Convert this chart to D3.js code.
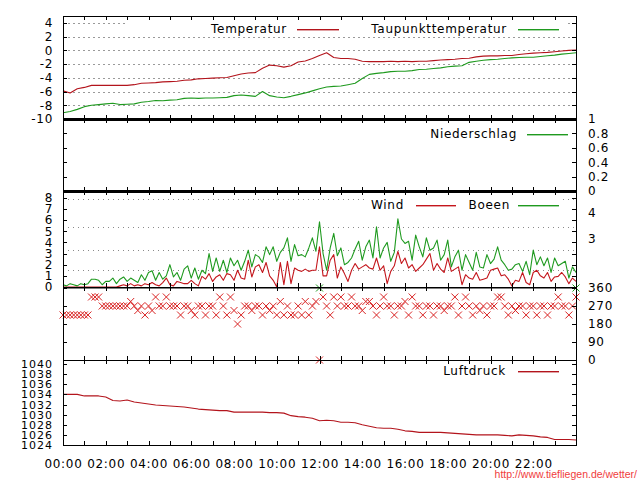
<!DOCTYPE html>
<html><head><meta charset="utf-8">
<script src="https://cdn.jsdelivr.net/npm/d3@7"></script>
<style>
body{margin:0;background:#fff}
svg{display:block}
text{font-family:"DejaVu Sans",sans-serif;font-size:12px;letter-spacing:0.7px;fill:#000}
</style>
</head><body>
<svg id="c" width="640" height="480"></svg>
<script>
// ---------- data ----------
const hourTicks = [0,1,2,3,4,5,6,7,8,9,10,11,12,13,14,15,16,17,18,19,20,21,22,23,24];
const timeLabels = ["00:00","02:00","04:00","06:00","08:00","10:00","12:00","14:00","16:00","18:00","20:00","22:00"];
const timeLabelHours = [0,2,4,6,8,10,12,14,16,18,20,22];

// 20-minute samples (73 values, 00:00 .. 24:00)
const temperature = [
-5.9,-6.2,-5.6,-5.4,-5.1,-5.1,-5.1,-5.1,-5.1,-5.1,
-5.0,-4.8,-4.75,-4.7,-4.6,-4.55,-4.5,-4.35,-4.3,-4.15,
-4.1,-4.05,-4.0,-3.95,-3.7,-3.45,-3.3,-3.25,-2.6,-2.15,
-2.25,-2.45,-2.25,-1.7,-1.55,-1.2,-0.75,-0.35,-1.05,-1.2,
-1.2,-1.3,-1.6,-1.65,-1.65,-1.65,-1.6,-1.65,-1.6,-1.65,
-1.6,-1.6,-1.5,-1.4,-1.35,-1.3,-1.2,-1.15,-0.95,-0.85,
-0.8,-0.8,-0.75,-0.75,-0.6,-0.5,-0.4,-0.35,-0.3,-0.2,
-0.1,0.0,0.05];
const dewPoint = [
-9.1,-8.9,-8.6,-8.2,-8.0,-7.9,-7.8,-7.7,-7.9,-7.85,
-7.8,-7.55,-7.45,-7.3,-7.35,-7.25,-7.2,-7.0,-6.95,-7.0,
-6.95,-6.95,-6.9,-6.85,-6.6,-6.5,-6.6,-6.7,-6.0,-6.6,
-6.8,-6.9,-6.7,-6.45,-6.2,-5.9,-5.6,-5.35,-5.25,-5.2,
-5.0,-4.8,-4.1,-3.5,-3.35,-3.25,-3.1,-3.05,-3.05,-2.95,
-2.8,-2.75,-2.65,-2.55,-2.4,-2.3,-2.25,-1.75,-1.6,-1.45,
-1.35,-1.3,-1.2,-1.1,-1.05,-1.0,-1.0,-0.9,-0.8,-0.7,
-0.55,-0.45,-0.35];
const pressure = [
1034.0,1034.0,1034.0,1033.7,1033.7,1033.7,1033.5,1032.8,1032.7,1032.9,
1032.5,1032.3,1032.1,1031.9,1031.8,1031.7,1031.6,1031.5,1031.3,1031.1,
1031.0,1030.9,1030.8,1030.8,1030.5,1030.5,1030.5,1030.5,1030.5,1030.4,
1030.4,1030.3,1029.8,1029.6,1029.5,1029.3,1028.8,1028.9,1028.8,1028.5,
1028.5,1028.4,1028.0,1027.7,1027.4,1027.3,1027.3,1027.1,1026.8,1026.7,
1026.5,1026.5,1026.5,1026.5,1026.4,1026.3,1026.2,1026.1,1026.0,1026.0,
1026.0,1026.0,1025.9,1025.8,1026.0,1025.9,1025.8,1025.6,1025.5,1025.1,
1025.1,1025.1,1025.0];

// 10-minute samples (145 values, 00:00 .. 24:00)
const wind = [
0,0,0,0,0,0,0,0,0,0,
0,0,0,0,0,0,0.1,0.2,0.1,0.3,
0.1,0.2,0.1,0.3,0.2,0.4,0.2,0.1,0.4,0.8,
0.2,0.1,0.5,0.4,0.3,0.3,0.6,0.3,0.1,0.95,
0.7,1.2,0.5,0.9,1.1,0.6,1.2,1.1,0.6,1.5,
0.8,0.7,2.4,0.9,1.8,2.0,1.3,2.2,1.0,0.6,
0.0,2.2,0.2,2.3,0.3,1.7,1.5,1.4,1.6,1.4,
1.5,1.5,3.6,1.0,1.0,2.4,2.9,0.8,1.8,1.2,
0.5,1.5,2.1,1.6,1.8,2.0,1.7,1.6,2.6,1.5,
1.9,0.3,1.4,1.9,3.2,2.1,2.6,1.7,2.0,1.4,
1.7,2.0,2.5,3.0,1.5,2.1,1.6,1.3,2.6,1.4,
1.6,1.8,0.2,1.1,0.8,0.7,1.3,0.6,0.7,0.8,
1.5,1.6,1.7,1.0,1.1,0.7,0.1,0.6,0.5,1.3,
0.4,0.2,1.3,1.5,1.0,0.8,1.3,0.5,0.9,0.95,
1.3,0.9,0.3,0.8,0.5];
const gusts = [
0.2,0.1,0.3,0.2,0.1,0.3,0.2,0.3,0.7,0.7,
0.6,0.2,0.5,0.5,0.8,0.3,0.7,0.9,0.5,0.8,
0.6,0.4,1.1,0.6,1.3,1.45,0.6,1.3,0.7,1.0,
2.0,0.9,1.3,0.6,1.6,1.9,0.8,1.7,0.7,1.5,
1.2,3.0,1.4,2.6,1.4,2.4,1.3,2.6,1.9,2.4,
1.5,2.3,3.3,1.8,2.9,2.7,2.2,3.6,2.9,3.6,
2.3,3.1,3.5,4.4,2.3,3.8,2.8,2.9,2.7,3.5,
4.4,3.2,5.85,3.0,1.5,3.5,4.8,2.8,3.5,2.0,
2.2,2.6,3.4,4.1,2.4,3.6,4.2,2.6,5.4,2.6,
3.5,4.0,2.3,3.1,6.1,4.3,3.9,4.1,2.4,4.65,
3.6,2.7,4.4,3.3,3.5,4.2,2.4,2.9,4.2,1.8,
2.7,3.3,1.5,2.9,2.2,1.5,3.1,1.8,1.7,2.9,
2.1,2.5,3.6,2.4,2.0,1.5,1.6,2.0,2.1,1.4,
2.3,1.1,3.3,2.0,2.7,1.9,2.6,1.3,2.6,1.9,
2.1,2.3,0.8,1.8,1.3];
const direction = [
225,225,225,225,225,225,225,225,315,315,
315,270,270,270,270,270,270,270,270,292.5,
270,247.5,270,225,270,247.5,315,270,270,315,
270,270,270,225,270,270,247.5,225,270,270,
225,270,270,225,315,270,225,315,247.5,180,
225,270,270,247.5,270,270,225,270,247.5,270,
225,292.5,225,270,225,225,270,225,292.5,225,
270,292.5,0,315,270,225,315,270,315,270,
270,315,270,270,247.5,292.5,292.5,270,225,270,
315,270,270,225,270,270,292.5,225,315,270,
270,225,270,270,225,270,270,247.5,270,270,
315,225,270,315,270,225,270,247.5,270,225,
270,270,315,315,270,225,270,247.5,270,270,
225,270,270,225,270,270,225,270,270,315,
270,270,225,270,315];
const gustDirHours = [12, 24];
const gustDirection = [360, 360];

// 3-hour samples
const precipitation = [0,0,0,0,0,0,0,0,0];

// axis ticks / labels
const tempTicks = [-10,-8,-6,-4,-2,0,2,4];
const tempGrid = [-8,-6,-4,-2,0,2,4];
const rainTicks = [0,0.2,0.4,0.6,0.8,1];
const rainLabels = ["0","0.2","0.4","0.6","0.8","1"];
const windTicks = [0,1,2,3,4,5,6,7,8];
const beaufortBounds = [1.5,3.3,5.4,7.9];
const beaufortMid = [4.35,6.65];
const beaufortLabels = ["3","4"];
const dirTicks = [0,90,180,270,360];
const pressTicks = [1024,1026,1028,1030,1032,1034,1036,1038,1040];

// ---------- drawing ----------
const RED = "#b3141c", WRED = "#c4161c", MRED = "#d92424", GREEN = "#1f9a1f";
const svg = d3.select("#c");
const X0 = 63, X1 = 576;
const x = d3.scaleLinear().domain([0,24]).range([X0,X1]);
const t20 = i => i/3, t10 = i => i/6, t3 = i => i*3;

const P = {
  temp:{top:16,bottom:119},
  rain:{top:119,bottom:191},
  wind:{top:191,bottom:287},
  dir:{top:287,bottom:360},
  press:{top:360,bottom:445}
};
const yT = d3.scaleLinear().domain([-10,5]).range([P.temp.bottom,P.temp.top]);
const yR = d3.scaleLinear().domain([0,1]).range([P.rain.bottom,P.rain.top]);
const yW = d3.scaleLinear().domain([0,8.6]).range([P.wind.bottom,P.wind.top]);
const yD = d3.scaleLinear().domain([0,360]).range([P.dir.bottom,P.dir.top+1]);
const yP = d3.scaleLinear().domain([1024,1040.8]).range([P.press.bottom,P.press.top]);

// grids
const gGrid = svg.append("g");
gGrid.selectAll(".tg").data(tempGrid).join("line")
  .attr("x1",X0).attr("x2",X1).attr("y1",d=>Math.round(yT(d))+0.5).attr("y2",d=>Math.round(yT(d))+0.5)
  .attr("stroke","#9a9a9a").attr("stroke-dasharray","2,3");
gGrid.selectAll(".wg").data(beaufortBounds).join("line")
  .attr("x1",X0).attr("x2",X1).attr("y1",d=>Math.round(yW(d))+0.5).attr("y2",d=>Math.round(yW(d))+0.5)
  .attr("stroke","#8a8a8a").attr("stroke-dasharray","1,4");

// key backgrounds
svg.append("rect").attr("x",125).attr("y",21).attr("width",441).attr("height",15).attr("fill","#fff");
svg.append("rect").attr("x",365).attr("y",196).attr("width",198).attr("height",16).attr("fill","#fff");

// series
function drawLine(vals, tf, ys, color){
  svg.append("path").datum(vals)
    .attr("d", d3.line().x((d,i)=>x(tf(i))).y(d=>ys(d)))
    .attr("fill","none").attr("stroke",color).attr("stroke-width",1.1).attr("stroke-linejoin","round");
}
drawLine(temperature, t20, yT, RED);
drawLine(dewPoint, t20, yT, GREEN);
drawLine(precipitation, t3, yR, GREEN);
drawLine(wind, t10, yW, WRED);
drawLine(gusts, t10, yW, GREEN);
drawLine(pressure, t20, yP, RED);

function cross(px,py,s){return `M${px-s},${py-s}L${px+s},${py+s}M${px-s},${py+s}L${px+s},${py-s}`;}
svg.append("path")
  .attr("d", direction.map((d,i)=>cross(x(t10(i)), yD(d), 3.5)).join(""))
  .attr("fill","none").attr("stroke",MRED).attr("stroke-width",1);
svg.append("path")
  .attr("d", gustDirection.map((d,i)=>cross(x(gustDirHours[i]), yD(d), 3.5)).join(""))
  .attr("fill","none").attr("stroke",GREEN).attr("stroke-width",1);

// axes
function clean(g){ g.select(".domain").remove(); g.selectAll("text").attr("fill","#000"); return g; }
function leftAxis(scale, ticks, fmt, small){
  const a = d3.axisLeft(scale).tickValues(ticks).tickSize(-4).tickPadding(10).tickFormat(fmt || "");
  const g = clean(svg.append("g").attr("transform",`translate(${X0},0)`).attr("shape-rendering","crispEdges").call(a));
  if (small) g.selectAll("text").style("font-size","11px").style("letter-spacing","1px");
}
function rightAxis(scale, ticks, fmt, size){
  const a = d3.axisRight(scale).tickValues(ticks).tickSize(size===undefined?-4:size).tickPadding(12).tickFormat(fmt || "");
  clean(svg.append("g").attr("transform",`translate(${X1},0)`).attr("shape-rendering","crispEdges").call(a));
}
const str = d => String(d);
leftAxis(yT, tempTicks, str);  rightAxis(yT, tempTicks);
leftAxis(yR, rainTicks);       rightAxis(yR, rainTicks, (d,i)=>rainLabels[i]);
leftAxis(yW, windTicks, str);  rightAxis(yW, windTicks);
rightAxis(yW, beaufortMid, (d,i)=>beaufortLabels[i], 0);
leftAxis(yD, dirTicks);        rightAxis(yD, dirTicks, str);
leftAxis(yP, pressTicks, str, true); rightAxis(yP, pressTicks);

Object.keys(P).forEach(k=>{
  const p = P[k];
  clean(svg.append("g").attr("transform",`translate(0,${p.top})`).attr("shape-rendering","crispEdges")
    .call(d3.axisTop(x).tickValues(hourTicks).tickSize(-4).tickFormat("")));
  const last = k === "press";
  clean(svg.append("g").attr("transform",`translate(0,${p.bottom})`).attr("shape-rendering","crispEdges")
    .call(d3.axisBottom(x).tickValues(hourTicks).tickSize(-4).tickPadding(14)
      .tickFormat(d => { if(!last) return ""; const j = timeLabelHours.indexOf(d); return j>=0 ? timeLabels[j] : ""; })));
  svg.append("rect").attr("x",X0+0.5).attr("y",p.top+0.5).attr("width",X1-X0).attr("height",p.bottom-p.top)
    .attr("fill","none").attr("stroke","#000").attr("shape-rendering","crispEdges");
});
// heavy separators
[P.temp.bottom, P.rain.bottom].forEach(yy=>{
  svg.append("line").attr("x1",X0).attr("x2",X1+1).attr("y1",yy+0.5).attr("y2",yy+0.5)
    .attr("stroke","#000").attr("stroke-width",3);
});
svg.append("line").attr("x1",X0).attr("x2",X1+1).attr("y1",P.wind.bottom+1).attr("y2",P.wind.bottom+1)
  .attr("stroke","#000").attr("stroke-width",1);

// legends (drawn last, sample as a filled 1px bar)
function key(textEnd, lx1, lx2, y, label, color){
  svg.append("text").attr("x",textEnd).attr("y",y).attr("dy","0.36em").attr("text-anchor","end").text(label);
  svg.append("rect").attr("x",lx1).attr("y",y).attr("width",lx2-lx1).attr("height",1.4)
    .style("fill",color).style("stroke","none");
}
key(287, 297, 339, 29, "Temperatur", RED);
key(507, 518, 559, 29, "Taupunkttemperatur", GREEN);
key(517, 527, 568, 134, "Niederschlag", GREEN);
key(404, 416, 456, 205, "Wind", WRED);
key(510, 518, 559, 205, "Boeen", GREEN);
key(506, 518, 559, 371, "Luftdruck", RED);

svg.append("text").attr("x",637).attr("y",478).attr("text-anchor","end")
  .style("font-family","'Liberation Sans',Arial,sans-serif").style("font-size","10.5px").style("letter-spacing","0")
  .style("fill","#f03c3c").text("http://www.tiefliegen.de/wetter/");
</script>
</body></html>
